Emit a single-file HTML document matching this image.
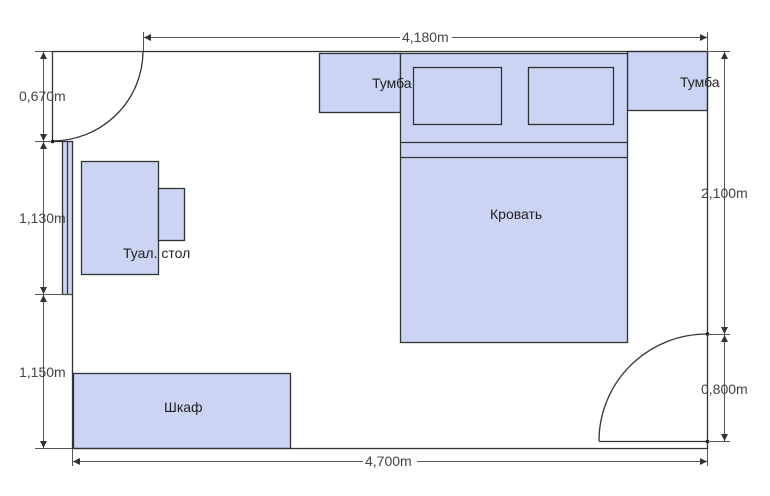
<!DOCTYPE html>
<html><head><meta charset="utf-8"><style>
html,body{margin:0;padding:0;background:#fff;}
svg{display:block;}
text{font-family:"Liberation Sans","DejaVu Sans",sans-serif;font-size:14px;fill:#222;}
.dim{fill:#444;}
</style></head><body>
<svg width="770" height="496" viewBox="0 0 770 496" xmlns="http://www.w3.org/2000/svg">
<defs>
<marker id="a" viewBox="0 0 10 10" refX="10" refY="5" markerWidth="9" markerHeight="7" orient="auto-start-reverse" markerUnits="userSpaceOnUse"><path d="M0,0 L10,5 L0,10 z" fill="#333"/></marker>
</defs>
<g fill="#ccd4f4" stroke="#333" stroke-width="1.3">
<rect x="319.5" y="53.5" width="81" height="59"/>
<rect x="627.5" y="51.5" width="80" height="59"/>
<rect x="400.5" y="53.5" width="227" height="289"/>
<rect x="413.5" y="67.5" width="88" height="57"/>
<rect x="528.5" y="67.5" width="85" height="57"/>
<rect x="81.5" y="161.5" width="77" height="113"/>
<rect x="158.5" y="188.5" width="26" height="52"/>
<rect x="73.5" y="373.5" width="217" height="75"/>
<rect x="62.5" y="141.5" width="10" height="153"/>
</g>
<g stroke="#333" stroke-width="1.3" fill="none">
<line x1="400" y1="142.5" x2="627" y2="142.5"/>
<line x1="400" y1="157.5" x2="627" y2="157.5"/>
<line x1="67.5" y1="141" x2="67.5" y2="294"/>
<line x1="52" y1="51.5" x2="708" y2="51.5"/>
<line x1="52.5" y1="51" x2="52.5" y2="141"/>
<line x1="52" y1="141.5" x2="62" y2="141.5"/>
<line x1="72.5" y1="294" x2="72.5" y2="449"/>
<line x1="72" y1="448.5" x2="708" y2="448.5"/>
<line x1="707.5" y1="51" x2="707.5" y2="449"/>
<path d="M143,51 A91,90 0 0 1 52,141"/>
<path d="M707,334 A108,107 0 0 0 599,441"/>
<line x1="599" y1="441.5" x2="707" y2="441.5"/>
</g>
<g fill="#111"><circle cx="52.5" cy="141.5" r="1.8"/><circle cx="707.5" cy="334" r="1.8"/><circle cx="707.5" cy="441.5" r="1.8"/></g>
<g stroke="#555" stroke-width="1" fill="none">
<line x1="143.5" y1="32" x2="143.5" y2="51"/>
<line x1="707.5" y1="32" x2="707.5" y2="51"/>
<line x1="144" y1="37.5" x2="707" y2="37.5" marker-start="url(#a)" marker-end="url(#a)"/>
<line x1="35" y1="51.5" x2="52" y2="51.5"/>
<line x1="35" y1="141.5" x2="52" y2="141.5"/>
<line x1="35" y1="294.5" x2="72" y2="294.5"/>
<line x1="35" y1="448.5" x2="72" y2="448.5"/>
<line x1="43.5" y1="52" x2="43.5" y2="141" marker-start="url(#a)" marker-end="url(#a)"/>
<line x1="43.5" y1="142" x2="43.5" y2="294" marker-start="url(#a)" marker-end="url(#a)"/>
<line x1="43.5" y1="295" x2="43.5" y2="448" marker-start="url(#a)" marker-end="url(#a)"/>
<line x1="707" y1="51.5" x2="730" y2="51.5"/>
<line x1="707" y1="334.5" x2="730" y2="334.5"/>
<line x1="707" y1="441.5" x2="730" y2="441.5"/>
<line x1="724.5" y1="52" x2="724.5" y2="334" marker-start="url(#a)" marker-end="url(#a)"/>
<line x1="724.5" y1="335" x2="724.5" y2="441" marker-start="url(#a)" marker-end="url(#a)"/>
<line x1="72.5" y1="449" x2="72.5" y2="466"/>
<line x1="707.5" y1="449" x2="707.5" y2="466"/>
<line x1="73" y1="461.5" x2="707" y2="461.5" marker-start="url(#a)" marker-end="url(#a)"/>
</g>
<g class="dim">
<rect x="400" y="30" width="52" height="14" fill="#fff"/>
<text x="402" y="42" class="dim">4,180m</text>
<text x="19" y="101" class="dim">0,670m</text>
<text x="19" y="223" class="dim">1,130m</text>
<text x="19" y="377" class="dim">1,150m</text>
<text x="701" y="198" class="dim">2,100m</text>
<text x="701" y="394" class="dim">0,800m</text>
<rect x="363" y="454" width="54" height="14" fill="#fff"/>
<text x="365" y="466" class="dim">4,700m</text>
</g>
<text x="372" y="88">Тумба</text>
<text x="680" y="87">Тумба</text>
<text x="490" y="219">Кровать</text>
<text x="123" y="258">Туал. стол</text>
<text x="164" y="412">Шкаф</text>
</svg>
</body></html>
